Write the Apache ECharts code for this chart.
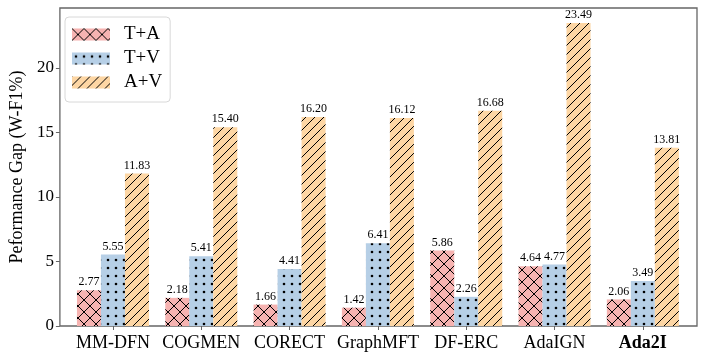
<!DOCTYPE html>
<html>
<head>
<meta charset="utf-8">
<script src="https://cdn.jsdelivr.net/npm/echarts@6/dist/echarts.min.js"></script>
<style>
  html, body { margin: 0; padding: 0; background: #fff; }
  #chart { width: 706px; height: 360px; }
</style>
</head>
<body>
<div id="chart"></div>
<script>
const categories = ["MM-DFN", "COGMEN", "CORECT", "GraphMFT", "DF-ERC", "AdaIGN", "Ada2I"];
const seriesNames = ["T+A", "T+V", "A+V"];
const taValues = [2.77, 2.18, 1.66, 1.42, 5.86, 4.64, 2.06];
const tvValues = [5.55, 5.41, 4.41, 6.41, 2.26, 4.77, 3.49];
const avValues = [11.83, 15.40, 16.20, 16.12, 16.68, 23.49, 13.81];
const yTicks = [0, 5, 10, 15, 20];

const FONT = "Liberation Serif";

// hatch tiles drawn on small canvases, used as repeating fills
function hatch(bg, kind) {
  const s = kind === "x" ? 12 : kind === "/" ? 9 : 8;
  const c = document.createElement("canvas");
  c.width = s; c.height = s;
  const ctx = c.getContext("2d");
  ctx.fillStyle = bg;
  ctx.fillRect(0, 0, s, s);
  ctx.strokeStyle = "#000";
  ctx.fillStyle = "#000";
  ctx.lineWidth = 1;
  if (kind === "x" || kind === "/") {
    ctx.beginPath();
    for (let o = -s; o <= s; o += s) {
      ctx.moveTo(o, s); ctx.lineTo(o + s, 0);
    }
    if (kind === "x") {
      for (let o = -s; o <= s; o += s) {
        ctx.moveTo(o, 0); ctx.lineTo(o + s, s);
      }
    }
    ctx.stroke();
  } else {
    ctx.beginPath();
    ctx.arc(s / 2, s / 2, 1.3, 0, Math.PI * 2);
    ctx.fill();
  }
  return { image: c, repeat: "repeat" };
}

const fills = [hatch("#f6b3b1", "x"), hatch("#b6cfe6", "."), hatch("#fdd6a4", "/")];
const values = [taValues, tvValues, avValues];

const chart = echarts.init(document.getElementById("chart"));

const yMax = 24.65;

chart.setOption({
  animation: false,
  backgroundColor: "#fff",
  textStyle: { fontFamily: FONT },
  legend: {
    orient: "vertical",
    left: 65,
    top: 17,
    padding: [8, 8, 10, 7],
    itemWidth: 38,
    itemHeight: 12,
    itemGap: 5,
    borderColor: "#d8d8d8",
    borderWidth: 1,
    borderRadius: 4,
    backgroundColor: "#fff",
    icon: "rect",
    textStyle: { fontFamily: FONT, fontSize: 19, color: "#000", padding: [0, 0, 0, 9] },
    data: seriesNames
  },
  grid: [
    { left: 55, right: 9, top: 8, bottom: 34, show: true, borderColor: "#666", borderWidth: 1.3, backgroundColor: "transparent" },
    { left: 68.8, right: 19, top: 8, bottom: 34 }
  ],
  xAxis: [
    { type: "value", gridIndex: 0, min: 0, max: 1, show: false },
    {
      type: "category",
      gridIndex: 1,
      data: categories,
      axisLine: { show: false },
      axisTick: { show: true, alignWithLabel: true, length: 4, lineStyle: { color: "#666" } },
      axisLabel: {
        interval: 0,
        fontFamily: FONT,
        fontSize: 18,
        color: "#000",
        margin: 8,
        formatter: (v) => v === "Ada2I" ? "{b|" + v + "}" : v,
        rich: { b: { fontFamily: FONT, fontSize: 18, fontWeight: "bold", color: "#000" } }
      }
    }
  ],
  yAxis: [
    {
      type: "value",
      gridIndex: 0,
      min: 0,
      max: yMax,
      interval: 5,
      name: "Peformance Gap (W-F1%)",
      nameLocation: "middle",
      nameGap: 29,
      nameTextStyle: { fontFamily: FONT, fontSize: 18, color: "#000" },
      axisLine: { show: false },
      axisTick: { show: true, length: 4, lineStyle: { color: "#666" } },
      splitLine: { show: false },
      axisLabel: {
        fontFamily: FONT,
        fontSize: 17,
        color: "#000",
        margin: 6,
        showMaxLabel: false,
        formatter: (v) => yTicks.includes(v) ? String(v) : ""
      }
    },
    { type: "value", gridIndex: 1, min: 0, max: yMax, show: false }
  ],
  series: seriesNames.map((name, i) => ({
    name: name,
    type: "bar",
    xAxisIndex: 1,
    yAxisIndex: 1,
    data: values[i],
    barWidth: 24,
    barGap: "0%",
    itemStyle: { color: fills[i] },
    label: {
      show: true,
      position: "top",
      distance: 2,
      fontFamily: FONT,
      fontSize: 12,
      color: "#000",
      formatter: (p) => p.value.toFixed(2)
    }
  }))
});
</script>
</body>
</html>
